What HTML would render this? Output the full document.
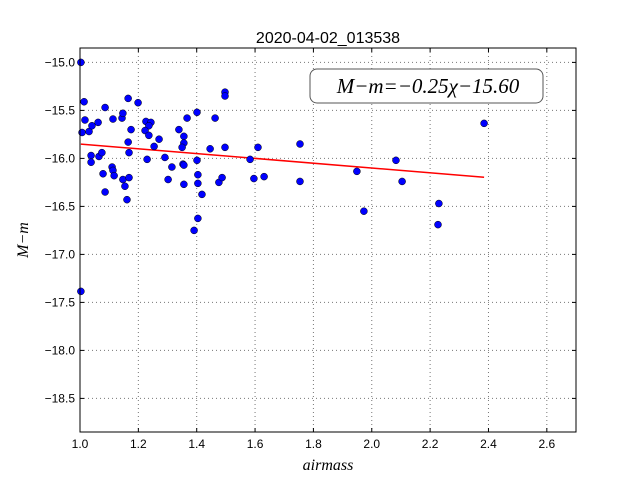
<!DOCTYPE html>
<html><head><meta charset="utf-8"><style>
body{margin:0;background:#fff;}
svg{display:block;font-family:"Liberation Sans",sans-serif;}
</style></head><body>
<svg id="chart" width="640" height="480" viewBox="0 0 640 480" xmlns="http://www.w3.org/2000/svg">
<rect width="640" height="480" fill="#fff"/>
<text x="328" y="43" text-anchor="middle" font-size="16">2020-04-02_013538</text>
<g id="grid"></g>
<g id="ticks"></g>
<g id="line"></g>
<g id="points"></g>
<rect x="80" y="48" width="496" height="384" fill="none" stroke="#000" stroke-width="1"/>
<g>
<rect x="310" y="69" width="233" height="34" rx="7" fill="#fff" stroke="#555" stroke-width="1"/>
<text x="428" y="93" text-anchor="middle" font-family="'Liberation Serif',serif" font-style="italic" font-size="21">M−m=−0.25χ−15.60</text>
</g>
<text x="328" y="470" text-anchor="middle" font-family="'Liberation Serif',serif" font-style="italic" font-size="16">airmass</text>
<text transform="translate(28,240) rotate(-90)" text-anchor="middle" font-family="'Liberation Serif',serif" font-style="italic" font-size="16">M−m</text>
</svg>
<script>
const airmass=[1.003,1.014,1.017,1.007,1.031,1.041,1.062,1.086,1.113,1.144,1.147,1.165,1.199,1.175,1.165,1.168,1.226,1.243,1.236,1.223,1.236,1.271,1.254,1.230,1.291,1.315,1.302,1.339,1.356,1.356,1.350,1.353,1.356,1.356,1.367,1.401,1.401,1.404,1.404,1.418,1.446,1.463,1.497,1.497,1.497,1.476,1.487,1.038,1.038,1.065,1.075,1.079,1.086,1.110,1.113,1.117,1.147,1.154,1.161,1.168,1.610,1.583,1.596,1.631,1.003,1.391,1.404,1.754,1.754,1.949,1.973,2.083,2.104,2.230,2.227,2.385];
const magDiff=[-15.00,-15.41,-15.60,-15.73,-15.72,-15.66,-15.625,-15.47,-15.59,-15.58,-15.53,-15.375,-15.42,-15.70,-15.83,-15.94,-15.615,-15.625,-15.66,-15.71,-15.76,-15.80,-15.875,-16.01,-15.99,-16.09,-16.22,-15.70,-15.77,-15.84,-15.885,-16.06,-16.07,-16.27,-15.58,-15.52,-16.02,-16.17,-16.26,-16.375,-15.90,-15.58,-15.31,-15.35,-15.885,-16.25,-16.20,-15.97,-16.04,-15.98,-15.94,-16.16,-16.35,-16.09,-16.125,-16.18,-16.22,-16.29,-16.43,-16.20,-15.885,-16.01,-16.21,-16.19,-17.385,-16.75,-16.625,-15.85,-16.24,-16.135,-16.55,-16.02,-16.24,-16.47,-16.69,-15.635];
const fitSlope=-0.25;
const fitIntercept=-15.60;
const xTicks=[1.0,1.2,1.4,1.6,1.8,2.0,2.2,2.4,2.6];
const yTicks=[-15.0,-15.5,-16.0,-16.5,-17.0,-17.5,-18.0,-18.5];
const X0=80,X1=576,Y0=48,Y1=432,xmin=1.0,xmax=2.7,ymin=-18.85,ymax=-14.85;
const sx=v=>X0+(v-xmin)/(xmax-xmin)*(X1-X0);
const sy=v=>Y1-(v-ymin)/(ymax-ymin)*(Y1-Y0);
const NS="http://www.w3.org/2000/svg";
function mk(tag,attrs,parent){const e=document.createElementNS(NS,tag);for(const k in attrs)e.setAttribute(k,attrs[k]);parent.appendChild(e);return e;}
const grid=document.getElementById('grid'),ticks=document.getElementById('ticks');
xTicks.forEach(t=>{const x=sx(t);
 const g=mk('line',{x1:x,x2:x,y1:Y0,y2:Y1,stroke:'#777','stroke-dasharray':'1,3','stroke-width':1},grid);
 
 
 mk('line',{x1:x,x2:x,y1:Y1,y2:Y1-4,stroke:'#000'},ticks);
 mk('line',{x1:x,x2:x,y1:Y0,y2:Y0+4,stroke:'#000'},ticks);
 const l=mk('text',{x:x,y:Y1+16,'text-anchor':'middle','font-size':12},ticks);
 l.textContent=t.toFixed(1);
 
 
});
yTicks.forEach(t=>{const y=sy(t);
 const g=mk('line',{x1:X0,x2:X1,y1:y,y2:y,stroke:'#777','stroke-dasharray':'1,3','stroke-width':1},grid);
 
 
 mk('line',{x1:X0,x2:X0+4,y1:y,y2:y,stroke:'#000'},ticks);
 mk('line',{x1:X1,x2:X1-4,y1:y,y2:y,stroke:'#000'},ticks);
 const l=mk('text',{x:X0-5,y:y+4,'text-anchor':'end','font-size':12},ticks);
 l.textContent='\u2212'+Math.abs(t).toFixed(1);
 
 
});
const lx0=Math.min(...airmass),lx1=Math.max(...airmass);
const fl=mk('line',{x1:sx(lx0),y1:sy(fitSlope*lx0+fitIntercept),x2:sx(lx1),y2:sy(fitSlope*lx1+fitIntercept),stroke:'#f00','stroke-width':1.5},document.getElementById('line'));


const pts=document.getElementById('points');
airmass.forEach((a,i)=>{
 const c=mk('circle',{cx:sx(a),cy:sy(magDiff[i]),r:3.5,fill:'#0000ff',stroke:'#000','stroke-width':0.5},pts);
 
 
});
</script>
</body></html>
